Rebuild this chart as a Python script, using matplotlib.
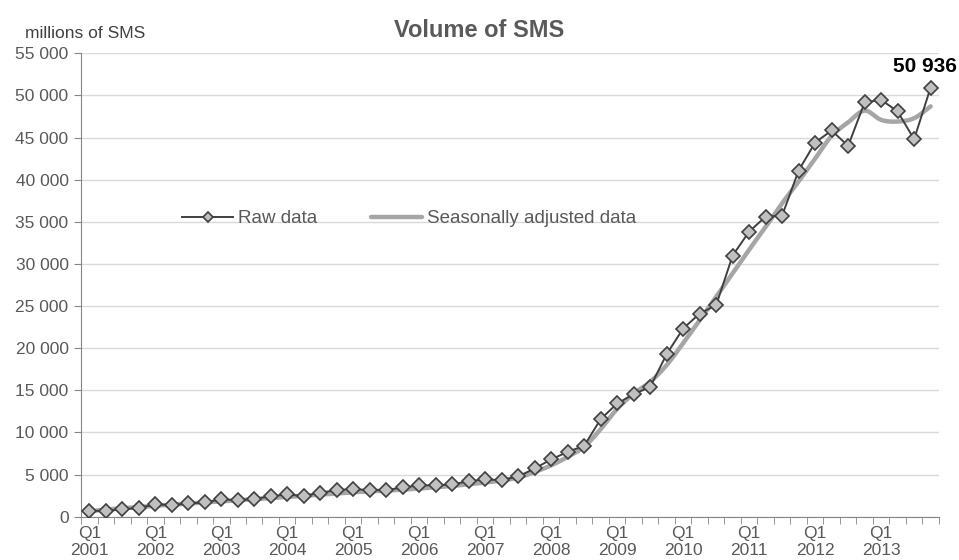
import numpy as np
import matplotlib
matplotlib.use("Agg")
import matplotlib.pyplot as plt
from matplotlib.ticker import FixedLocator, FuncFormatter

plt.rcParams['font.family'] = ['Liberation Sans', 'DejaVu Sans']

# Quarterly SMS volume, millions, Q1 2001 .. Q4 2013
years = list(range(2001, 2014))
quarters = ["Q1", "Q2", "Q3", "Q4"]

raw_data = [
    700, 700, 870, 1060,
    1450, 1380, 1570, 1690,
    2050, 1970, 2090, 2440,
    2640, 2450, 2850, 3160,
    3280, 3160, 3160, 3480,
    3720, 3720, 3830, 4230,
    4420, 4350, 4780, 5730,
    6800, 7700, 8420, 11580,
    13440, 14540, 15400, 19290,
    22330, 24110, 25100, 31000,
    33840, 35620, 35740, 41090,
    44410, 45840, 44010, 49170,
    49480, 48100, 44800, 50936,
]

seasonally_adjusted = [
    650, 850, 1000, 1150,
    1300, 1420, 1550, 1680,
    1820, 1950, 2080, 2220,
    2350, 2480, 2620, 2760,
    2900, 3000, 3100, 3200,
    3350, 3500, 3650, 3850,
    4050, 4300, 4650, 5300,
    6100, 7100, 8300, 10400,
    12800, 14600, 16000, 18000,
    20600, 23300, 26100, 28900,
    31700, 34400, 37200, 39800,
    42500, 45200, 46800, 48200,
    47100, 46900, 47300, 48700,
]

y_ticks = list(range(0, 55001, 5000))


def catmull_rom(x, y, n=12):
    """Smooth curve through the points (uniform Catmull-Rom spline)."""
    x = np.asarray(x, float)
    y = np.asarray(y, float)
    px = np.concatenate([[2 * x[0] - x[1]], x, [2 * x[-1] - x[-2]]])
    py = np.concatenate([[2 * y[0] - y[1]], y, [2 * y[-1] - y[-2]]])
    t = np.linspace(0, 1, n, endpoint=False)
    xs, ys = [], []
    for i in range(1, len(px) - 2):
        for p, out in ((px, xs), (py, ys)):
            p0, p1, p2, p3 = p[i - 1], p[i], p[i + 1], p[i + 2]
            out.append(0.5 * ((2 * p1) + (-p0 + p2) * t
                              + (2 * p0 - 5 * p1 + 4 * p2 - p3) * t ** 2
                              + (-p0 + 3 * p1 - 3 * p2 + p3) * t ** 3))
    xs.append([x[-1]])
    ys.append([y[-1]])
    return np.concatenate(xs), np.concatenate(ys)


x = np.arange(len(raw_data))

fig = plt.figure(figsize=(9.59, 5.60), dpi=100)
ax = fig.add_axes([0.0845, 0.0773, 0.8945, 0.8275])

grid_c = "#d9d9d9"
axis_c = "#868686"
text_c = "#595959"

sx, sy = catmull_rom(x, seasonally_adjusted)
ax.plot(sx, sy, color="#a6a6a6", lw=3.2, solid_capstyle="round",
        label="Seasonally adjusted data", zorder=2)
ax.plot(x, raw_data, color="#404040", lw=1.4, marker="D", markersize=7,
        markerfacecolor="#c0c0c0", markeredgecolor="#404040",
        markeredgewidth=1.2, label="Raw data", zorder=3)

ax.annotate(f"{raw_data[-1]:,}".replace(",", " "),
            xy=(x[-1], raw_data[-1]), xytext=(-4, 15),
            textcoords="offset points", ha="center", va="center",
            fontsize=15, fontweight="bold", color="black")

ax.set_xlim(-0.5, len(raw_data) - 0.5)
ax.set_ylim(0, 55000)

ax.yaxis.set_major_locator(FixedLocator(y_ticks))
ax.yaxis.set_major_formatter(
    FuncFormatter(lambda v, p: f"{int(v):,}".replace(",", " ")))
ax.yaxis.grid(True, color=grid_c, lw=1.0)
ax.set_axisbelow(True)

ax.set_xticks(x[::4])
ax.set_xticklabels([f"Q1\n{y}" for y in years])
ax.xaxis.set_minor_locator(FixedLocator(np.arange(-0.5, len(raw_data), 1)))
ax.tick_params(axis="x", which="major", length=0, pad=7,
               labelsize=12.5, labelcolor=text_c)
ax.tick_params(axis="x", which="minor", length=5, color=axis_c,
               direction="out")
ax.tick_params(axis="y", which="major", length=5, color=axis_c,
               labelsize=12.5, labelcolor=text_c, pad=4)
for lbl in ax.get_xticklabels():
    lbl.set_linespacing(1.12)

for s in ("top", "right"):
    ax.spines[s].set_visible(False)
ax.spines["left"].set_color(axis_c)
ax.spines["bottom"].set_color(axis_c)

fig.text(0.5, 0.946, "Volume of SMS", ha="center", va="center",
         fontsize=17, fontweight="bold", color=text_c)
fig.text(0.026, 0.94, "millions of SMS", ha="left", va="center",
         fontsize=12.5, color="#404040")

leg = ax.legend(handles=ax.get_lines()[::-1], loc="center left",
                bbox_to_anchor=(0.118, 0.643), ncol=2, frameon=False,
                fontsize=13.5, handlelength=2.7, handletextpad=0.25,
                columnspacing=2.9, borderpad=0, borderaxespad=0,
                labelcolor=text_c, markerscale=0.8)

fig.savefig("out.png", dpi=100)
